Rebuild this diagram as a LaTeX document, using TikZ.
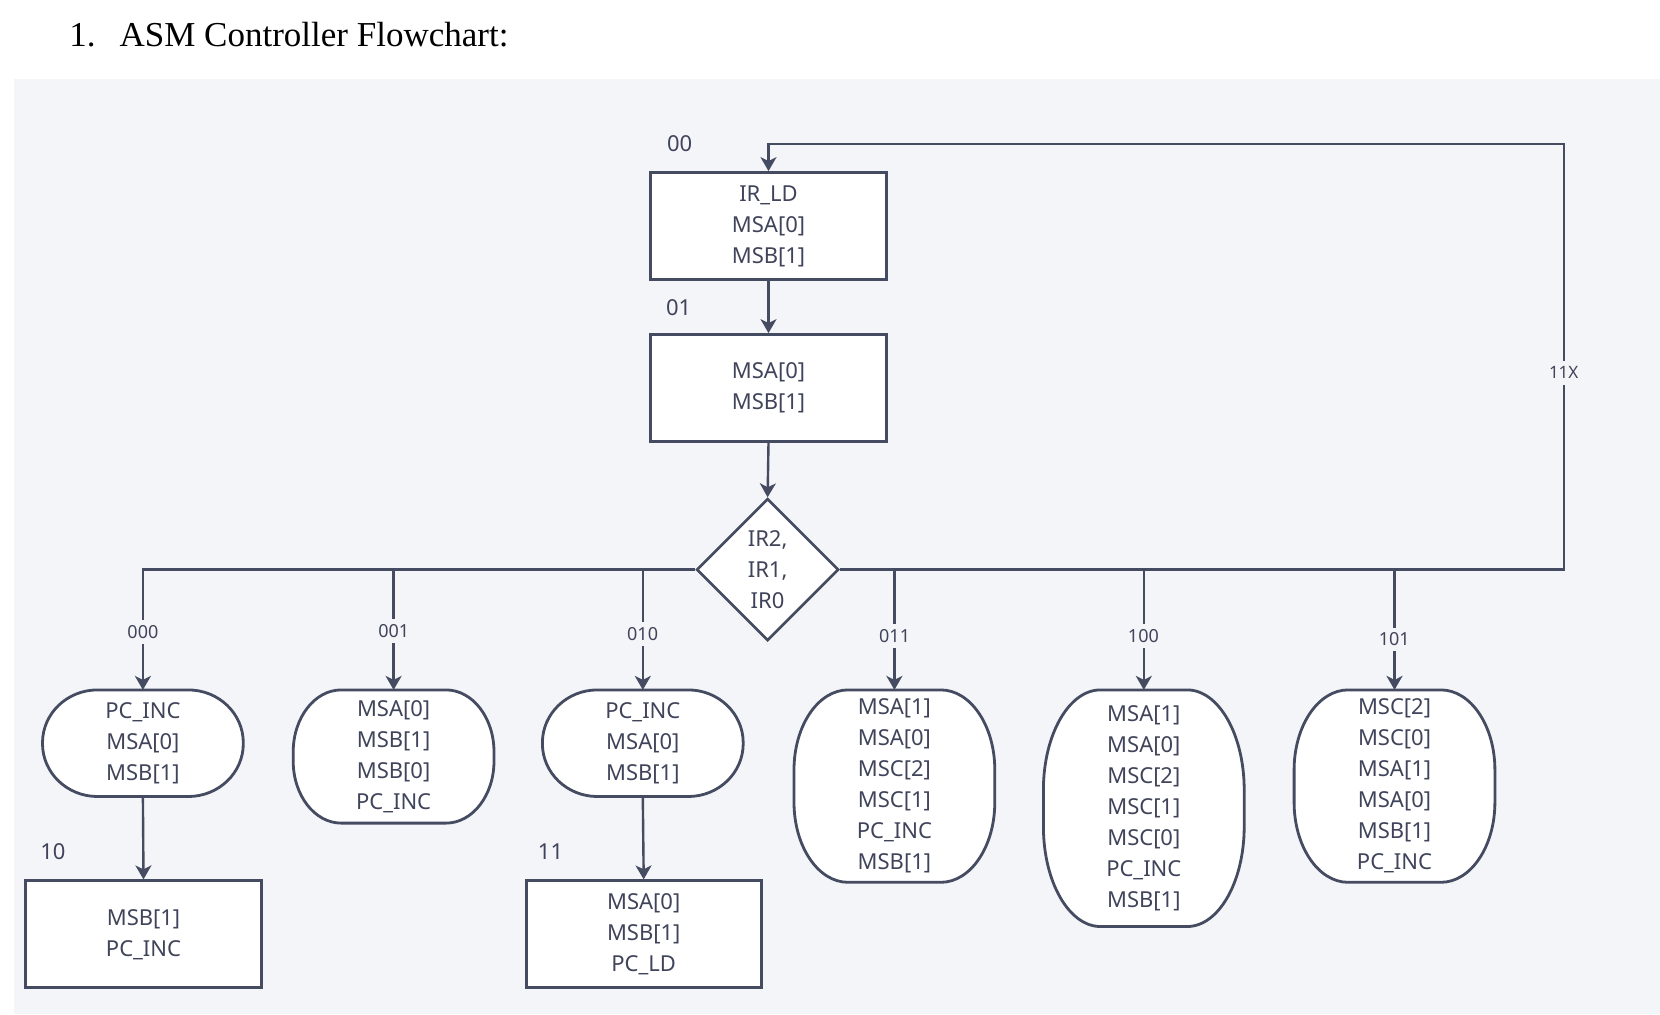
\documentclass[tikz,border=0pt]{standalone}
\usepackage{fontspec}
\setmainfont{Liberation Serif}
\newfontfamily\diagfont{Noto Sans}
\usetikzlibrary{shapes.geometric,arrows.meta,calc}
\definecolor{bgc}{HTML}{F4F5F9}
\definecolor{linec}{HTML}{454B60}
\definecolor{txtc}{HTML}{40445A}
\tikzset{
  every node/.style={text=txtc},
  boxnode/.style={draw=linec, line width=1.4pt, fill=white, rectangle, minimum width=118pt, minimum height=53.5pt, inner sep=0pt, align=center, font=\diagfont\fontsize{11}{15.5}\selectfont},
  ovalnode/.style={rectangle, minimum width=100pt, inner sep=0pt, align=center, font=\diagfont\fontsize{11}{15.5}\selectfont},
  dianode/.style={diamond, draw=linec, line width=1.3pt, fill=white, minimum width=71pt, minimum height=71pt, inner sep=0pt, align=center, font=\diagfont\fontsize{11}{15.5}\selectfont},
  statelbl/.style={font=\diagfont\fontsize{11}{13}\selectfont, inner sep=1pt},
  brlbl/.style={font=\diagfont\fontsize{9}{11}\selectfont, fill=bgc, inner xsep=2pt, inner ysep=2.5pt},
  conn/.style={draw=linec, line width=1.2pt},
  arr/.style={conn, -{Stealth[length=7pt, width=8pt, inset=2pt]}},
  ovalline/.style={draw=linec, line width=1.4pt, fill=white},
}
% outline of an oval-ended box around a node: name, rx, ry (dimensions)
\newcommand\drawoval[3]{%
  \path[ovalline] ([xshift=#2]#1.north west) -- ([xshift=-#2]#1.north east)
    arc[start angle=90, end angle=0, x radius=#2, y radius=#3]
    -- ([yshift=#3]#1.south east)
    arc[start angle=0, end angle=-90, x radius=#2, y radius=#3]
    -- ([xshift=#2]#1.south west)
    arc[start angle=270, end angle=180, x radius=#2, y radius=#3]
    -- ([yshift=-#3]#1.north west)
    arc[start angle=180, end angle=90, x radius=#2, y radius=#3] -- cycle;
}
\begin{document}
\begin{tikzpicture}[x=0.5pt, y=-0.5pt]
\useasboundingbox (0,0) rectangle (1660,1014);
\fill[white] (0,0) rectangle (1660,1014);
\fill[bgc] (14,79) rectangle (1660,1014);

\node[anchor=base west, font=\fontsize{17.5}{20}\selectfont, text=black, inner sep=0pt] (title) at (69,46) {1.\hspace{12pt}ASM Controller Flowchart:};

% state boxes
\node[boxnode] (b1) at (768.5,226) {IR\_LD\\MSA[0]\\MSB[1]};
\node[boxnode] (b2) at (768.5,388) {MSA[0]\\MSB[1]};
\node[dianode] (dia) at (767.6,569.6) {IR2,\\IR1,\\IR0};

% ovals (node frames)
\node[ovalnode, minimum height=52.9pt] (o1) at (142.9,743.2) {};
\node[ovalnode, minimum height=66.2pt] (o2) at (393.6,756.5) {};
\node[ovalnode, minimum height=52.9pt] (o3) at (642.8,743.2) {};
\node[ovalnode, minimum height=95.8pt] (o4) at (894.4,786.1) {};
\node[ovalnode, minimum height=117.9pt] (o5) at (1143.8,808.2) {};
\node[ovalnode, minimum height=95.8pt] (o6) at (1394.5,786.1) {};

\node[boxnode, minimum width=118pt] (bl) at (143.5,934.3) {MSB[1]\\PC\_INC};
\node[boxnode, minimum width=117.5pt] (bm) at (643.7,934.3) {MSA[0]\\MSB[1]\\PC\_LD};

% connectors
\coordinate (loopR) at (1563.7,569.6);
\coordinate (loopT) at (1563.7,144);
\draw[arr] (dia.east) -- (loopR) -- (loopT) -| (b1.north);
\draw[arr] (b1.south) -- (b2.north);
\draw[arr] (b2.south) -- (dia.north);
\draw[arr] (dia.west) -| (o1.north);
\draw[arr] (dia.west -| o2.north) -- (o2.north);
\draw[arr] (dia.west -| o3.north) -- (o3.north);
\draw[arr] (dia.east -| o4.north) -- (o4.north);
\draw[arr] (dia.east -| o5.north) -- (o5.north);
\draw[arr] (dia.east -| o6.north) -- (o6.north);
\draw[arr] (o1.south) -- (bl.north);
\draw[arr] (o3.south) -- (bm.north);

% oval outlines
\drawoval{o1}{27.5pt}{26.4pt}
\drawoval{o2}{24pt}{31pt}
\drawoval{o3}{27.5pt}{26.4pt}
\drawoval{o4}{27pt}{40pt}
\drawoval{o5}{28.5pt}{50pt}
\drawoval{o6}{27pt}{40pt}

% oval texts
\node[ovalnode] (t1) at (o1.center) {PC\_INC\\MSA[0]\\MSB[1]};
\node[ovalnode] (t2) at (o2.center) {MSA[0]\\MSB[1]\\MSB[0]\\PC\_INC};
\node[ovalnode] (t3) at (o3.center) {PC\_INC\\MSA[0]\\MSB[1]};
\node[ovalnode] (t4) at (o4.center) {MSA[1]\\MSA[0]\\MSC[2]\\MSC[1]\\PC\_INC\\MSB[1]};
\node[ovalnode] (t5) at (o5.center) {MSA[1]\\MSA[0]\\MSC[2]\\MSC[1]\\MSC[0]\\PC\_INC\\MSB[1]};
\node[ovalnode] (t6) at (o6.center) {MSC[2]\\MSC[0]\\MSA[1]\\MSA[0]\\MSB[1]\\PC\_INC};

% labels
\node[statelbl] (l00) at (679.7,144) {00};
\node[statelbl] (l01) at (678.6,308) {01};
\node[statelbl] (l10) at (52.9,851.2) {10};
\node[statelbl] (l11) at (550.5,851.2) {11};

\node[brlbl] (c000) at (142.9,632) {000};
\node[brlbl] (c001) at (393.8,631) {001};
\node[brlbl] (c010) at (642.6,634) {010};
\node[brlbl] (c011) at (894.6,636) {011};
\node[brlbl] (c100) at (1143.4,636) {100};
\node[brlbl] (c101) at (1394.3,639.5) {101};
\node[brlbl, font=\diagfont\fontsize{8.5}{10}\selectfont, inner ysep=3pt] (c11x) at (1563.7,372.7) {11X};
\end{tikzpicture}
\end{document}
